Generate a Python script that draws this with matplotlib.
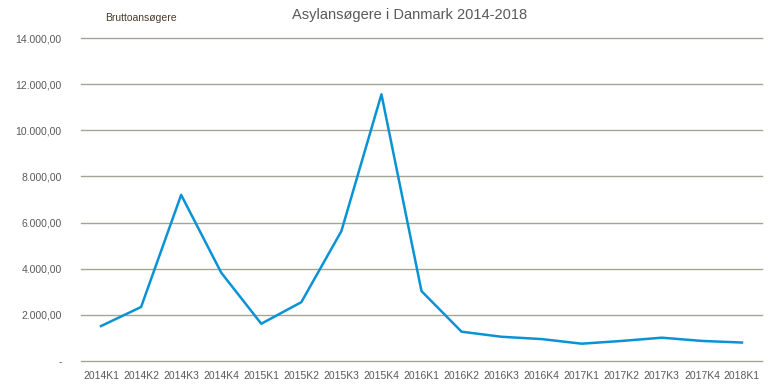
import matplotlib
matplotlib.use('Agg')
from matplotlib import pyplot as plt
from matplotlib.ticker import FuncFormatter

quarters = ['2014K1', '2014K2', '2014K3', '2014K4', '2015K1', '2015K2', '2015K3', '2015K4',
            '2016K1', '2016K2', '2016K3', '2016K4', '2017K1', '2017K2', '2017K3', '2017K4', '2018K1']
applicants = [1515, 2340, 7200, 3830, 1615, 2550, 5630, 11560,
              3030, 1270, 1050, 950, 750, 870, 1010, 870, 800]
yticks = [0, 2000, 4000, 6000, 8000, 10000, 12000, 14000]

plt.rcParams['font.family'] = ['Liberation Sans', 'DejaVu Sans']
txt = '#595959'
grid = '#a5a595'

fig = plt.figure(figsize=(7.78, 3.92), dpi=100)
ax = fig.add_axes([81 / 778, 31 / 392, 681 / 778, 323 / 392])

x = range(len(quarters))
ax.plot(x, applicants, color='#0a93d4', linewidth=1.8, zorder=3)

ax.set_xlim(-0.5, len(quarters) - 0.5)
ax.set_ylim(0, 14000)
ax.set_yticks(yticks)

def fmt(v, pos):
    if v == 0:
        return '-'
    s = f'{v:,.2f}'
    return s.replace(',', 'X').replace('.', ',').replace('X', '.')

ax.yaxis.set_major_formatter(FuncFormatter(fmt))
ax.set_xticks(list(x))
ax.set_xticklabels(quarters)
ax.grid(axis='y', color=grid, linewidth=1)
for gl in ax.get_ygridlines():
    gl.set_clip_on(False)
ax.set_axisbelow(True)
for s in ax.spines.values():
    s.set_visible(False)
ax.tick_params(axis='both', length=0, labelsize=7.5, colors=txt)
ax.tick_params(axis='y', pad=14)
ax.tick_params(axis='x', pad=7)

fig.text(0.527, 0.962, 'Asylansøgere i Danmark 2014-2018', ha='center', va='center',
         fontsize=10.5, color=txt)
fig.text(0.135, 0.955, 'Bruttoansøgere', ha='left', va='center', fontsize=7.5, color='#4a3a2a')

plt.savefig('out.png', dpi=100)
